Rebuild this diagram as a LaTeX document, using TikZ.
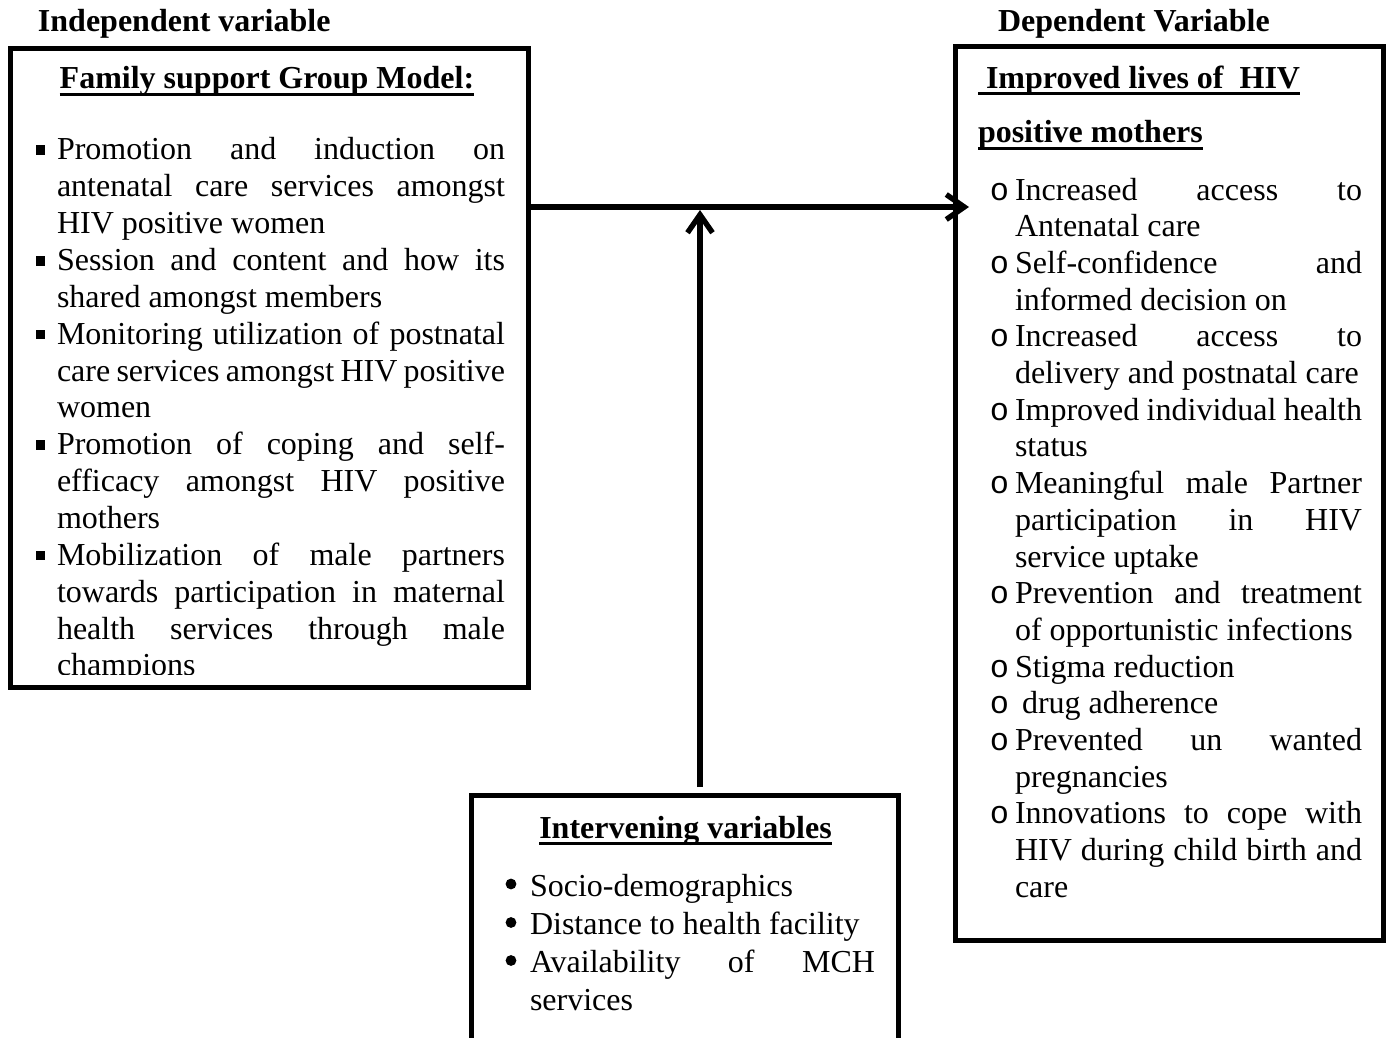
\documentclass[tikz,border=0pt]{standalone}
\usepackage{fontspec}
\setmainfont{Liberation Serif}
\newfontfamily\bulletfont{Liberation Mono}
\usetikzlibrary{arrows.meta,calc}
\begin{document}
\begin{tikzpicture}[x=0.5pt,y=-0.5pt,
  box/.style={draw,line width=2.5pt,inner sep=0pt,outer sep=0pt},
  txt/.style={anchor=base west,inner sep=0pt,outer sep=0pt,font=\fontsize{16}{18.4}\selectfont},
  ttl/.style={inner sep=0pt,outer sep=0pt,font=\fontsize{16}{18.4}\selectfont\bfseries},
  obul/.style={anchor=base,inner sep=0pt,outer sep=0pt,font=\fontsize{16}{18.4}\bulletfont},
  ul/.style={line width=1.5pt},
  arr/.style={line width=2.7pt,-{Straight Barb[length=9pt,width=12.5pt]}}]
\useasboundingbox (0,0) rectangle (1388,1038);
\clip (0,0) rectangle (1388,1038);

% boxes
\node[box,minimum width=259pt,minimum height=319.25pt] (lb) at (269,367.75) {};
\node[box,minimum width=213.75pt,minimum height=446.5pt] (rb) at (1169.25,493.5) {};
\node[box,minimum width=213.5pt,minimum height=132.5pt] (ib) at (684.5,927.5) {};

% headers
\node[ttl,anchor=base west] (hi) at (38,32) {Independent variable};
\node[ttl,anchor=base west] (hd) at (998,32) {Dependent Variable};

% titles
\node[ttl,anchor=base] (t1) at (267,89) {Family support Group Model:};
\draw[ul] ([yshift=-3pt]t1.base west) -- ([yshift=-3pt]t1.base east);
\node[ttl,anchor=base west] (t2) at (978,89) {\ Improved lives of\ \ HIV};
\draw[ul] ([yshift=-2.5pt]t2.base west) -- ([yshift=-2.5pt]t2.base east);
\node[ttl,anchor=base west] (t3) at (978,143) {positive mothers};
\draw[ul] ([yshift=-2.75pt]t3.base west) -- ([yshift=-2.75pt]t3.base east);
\node[ttl,anchor=base] (t4) at (685.5,838) {Intervening variables};
\draw[ul] ([yshift=-2.75pt]t4.base west) -- ([yshift=-2.75pt]t4.base east);

% left box list
\foreach \n/\t in {1/Promotion and induction on,2/antenatal care services amongst,
  4/Session and content and how its,6/Monitoring utilization of postnatal,
  7/care services amongst HIV positive,9/Promotion of coping and self-,
  10/efficacy amongst HIV positive,12/Mobilization of male partners,
  13/towards participation in maternal,14/health services through male}
  \node[txt] (L\n) at (57,{160+(\n-1)*36.85}) {\makebox[224pt][s]{\t}};
\foreach \n/\t in {3/HIV positive women,5/shared amongst members,8/women,11/mothers}
  \node[txt] (L\n) at (57,{160+(\n-1)*36.85}) {\t};
\begin{scope}
  \clip (0,0) rectangle (528,674);
  \node[txt] (L15) at (57,{160+14*36.85}) {champions};
\end{scope}
\foreach \n in {1,4,6,9,12}
  \fill (35.5,{145.5+(\n-1)*36.85}) rectangle ++(9.5,9.5);

% right box list
\foreach \n/\t in {1/Increased access to,3/Self-confidence and,5/Increased access to,
  7/Improved individual health,9/Meaningful male Partner,10/participation in HIV,
  12/Prevention and treatment,16/Prevented un wanted,18/Innovations to cope with,
  19/HIV during child birth and}
  \node[txt] (R\n) at (1015,{200+(\n-1)*36.7}) {\makebox[173.5pt][s]{\t}};
\foreach \n/\t in {2/Antenatal care,4/informed decision on,6/delivery and postnatal care,
  8/status,11/service uptake,13/of opportunistic infections,14/Stigma reduction,
  17/pregnancies,20/care}
  \node[txt] (R\n) at (1015,{200+(\n-1)*36.7}) {\t};
\node[txt] (R15) at (1022,{200+14*36.7}) {drug adherence};
\foreach \n in {1,3,5,7,9,12,14,15,16,18}
  \node[obul] (O\n) at (999.5,{200+(\n-1)*36.7}) {o};

% intervening box list
\node[txt] (I1) at (530,896) {Socio-demographics};
\node[txt] (I2) at (530,934) {Distance to health facility};
\node[txt] (I3) at (530,972) {\makebox[172.5pt][s]{Availability of MCH}};
\node[txt] (I4) at (530,1010) {services};
\foreach \y in {884,922.5,960.5}
  \fill (511,\y) circle (2.7pt);

% connectors
\coordinate (hy) at (0,207);
\coordinate (ht) at ($(rb.west |- hy)+(13.5,0)$);
\draw[arr] (lb.east |- hy) -- (ht);
\coordinate (vx) at (700,210);
\draw[arr] ($(ib.north -| vx)+(0,-8)$) -- (vx);
\end{tikzpicture}
\end{document}
